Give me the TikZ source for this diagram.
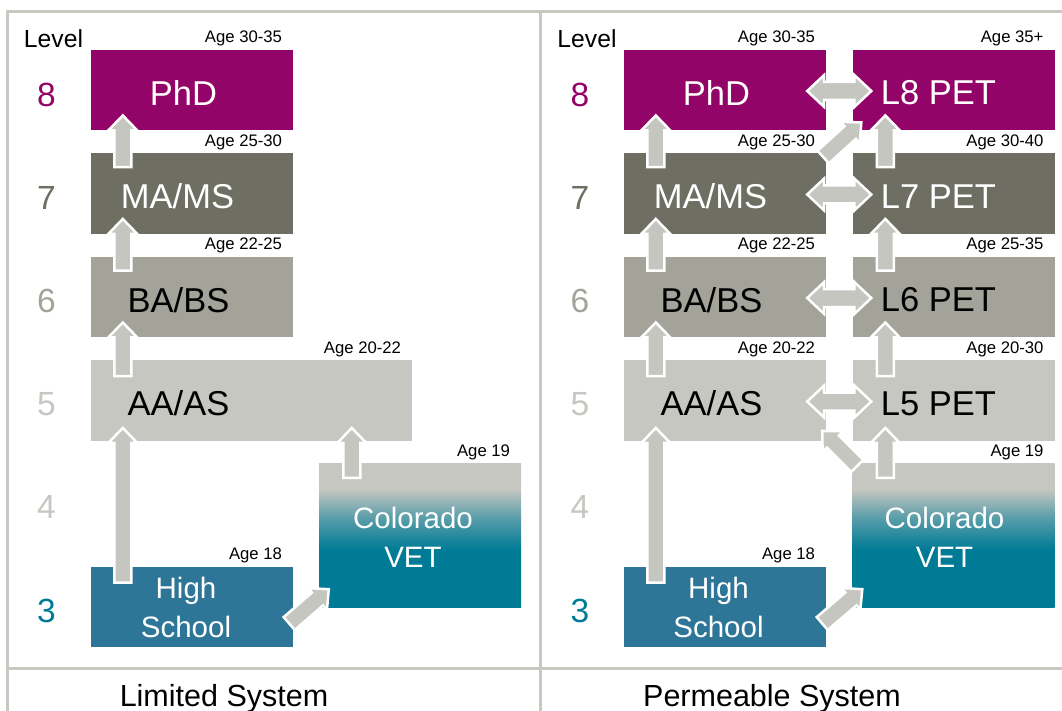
\documentclass[tikz,border=0pt]{standalone}
\usepackage{fontspec}
\setmainfont{Liberation Sans}
\usetikzlibrary{positioning,calc}

\definecolor{phdcol}{RGB}{147,4,104}
\definecolor{macol}{RGB}{110,110,98}
\definecolor{bacol}{RGB}{163,163,154}
\definecolor{aacol}{RGB}{199,199,193}
\definecolor{hscol}{RGB}{46,118,151}
\definecolor{vetcol}{RGB}{0,123,150}
\definecolor{rimcol}{RGB}{200,200,194}
\definecolor{arrcol}{RGB}{198,198,192}

\pgfdeclareverticalshading{vetshade}{100bp}{color(0bp)=(vetcol); color(45bp)=(vetcol); color(56bp)=(vetcol!55!aacol); color(66bp)=(aacol); color(100bp)=(aacol)}

\tikzset{
  rim/.style={draw=rimcol, line width=3pt},
  box/.style={rectangle, inner sep=0pt, minimum width=202pt, minimum height=80.5pt, fill=#1},
  vet/.style={rectangle, inner sep=0pt, minimum width=202pt, minimum height=144pt, shading=vetshade},
  txt/.style={font=\fontsize{34.5}{40}\selectfont, text=#1, yshift=-3pt},
  txttwo/.style={font=\fontsize{29.5}{39}\selectfont, text=white, align=center},
  age/.style={font=\fontsize{16.7}{20}\selectfont, anchor=south east, inner sep=0pt, xshift=-11pt, yshift=3pt},
  num/.style={font=\fontsize{33.5}{40}\selectfont, text=#1},
  lev/.style={font=\fontsize{24.7}{30}\selectfont},
  sys/.style={font=\fontsize{30.5}{36}\selectfont, anchor=base},
  blk/.style={draw=white, line width=2.5pt, fill=arrcol, line join=miter},
  uparrow/.style={to path={let \p1=(\tikztostart), \p2=(\tikztotarget),
      \n1={atan2(\y2-\y1,\x2-\x1)}, \n2={veclen(\x2-\x1,\y2-\y1)} in
      -- ++(\n1-90:8.5pt) -- ++(\n1:\n2-15pt) -- ++(\n1-90:6pt) -- (\p2)
      -- ++($(\n1+180:15pt)+(\n1+90:14.5pt)$) -- ++(\n1-90:6pt) -- ++(\n1+180:\n2-15pt) -- cycle}},
  twoway/.style={to path={let \p1=(\tikztostart), \p2=(\tikztotarget),
      \n1={atan2(\y2-\y1,\x2-\x1)}, \n2={veclen(\x2-\x1,\y2-\y1)} in
      -- ++($(\n1:17pt)+(\n1+90:16pt)$) -- ++(\n1-90:7pt) -- ++(\n1:\n2-34pt) -- ++(\n1+90:7pt) -- (\p2)
      -- ++($(\n1+180:17pt)+(\n1-90:16pt)$) -- ++(\n1+90:7pt) -- ++(\n1+180:\n2-34pt) -- ++(\n1-90:7pt) -- cycle}}
}

\begin{document}
\begin{tikzpicture}[x=1pt,y=-1pt,node distance=103.5pt,on grid]
\useasboundingbox (0,0) rectangle (1062,711);

% frame
\draw[rim] (7,711) |- (1062,12);
\draw[rim] (540,12) -- (540,711);
\draw[rim] (7,668) -- (1062,668);

% levels
\node[lev] (lev_L) at (53.5,39) {Level};
\node[lev] (lev_R) at (587,39) {Level};
\foreach \lv/\col [count=\i from 0] in {8/phdcol,7/macol,6/bacol,5/aacol,4/aacol,3/vetcol}{
  \node[num=\col] (lv\lv_L) at (46.5,{95+103.1*\i}) {\lv};
  \node[num=\col] (lv\lv_R) at (580,{95+103.1*\i}) {\lv};
}

% limited system
\node[box=phdcol, label={[txt=white,xshift=-8.5pt]center:PhD}, label={[age]north east:Age 30-35}] (phd_L) at (192,90) {};
\node[box=macol, label={[txt=white,xshift=-14.5pt]center:MA/MS}, label={[age]north east:Age 25-30}] (ma_L) [below=of phd_L] {};
\node[box=bacol, label={[txt=black,xshift=-13.5pt]center:BA/BS}, label={[age]north east:Age 22-25}] (ba_L) [below=of ma_L] {};
\node[box=aacol, minimum width=321pt, label={[txt=black,xshift=-73pt]center:AA/AS}, label={[age]north east:Age 20-22}] (aa_L) at (251.5,400.5) {};
\node[box=hscol, label={[txttwo,xshift=-6pt]center:High\\School}, label={[age]north east:Age 18}] (hs_L) at (192,607) {};
\node[vet, label={[txttwo,xshift=-7pt,yshift=-2pt]center:Colorado\\VET}, label={[age]north east:Age 19}] (vet_L) at (420,535) {};

\path[blk]
  ($(ma_L.north west)+(32,14)$) to[uparrow] ($(phd_L.south west)+(32,-15)$)
  ($(ba_L.north west)+(32,14)$) to[uparrow] ($(ma_L.south west)+(32,-15)$)
  ($(aa_L.north west)+(32,16)$) to[uparrow] ($(ba_L.south west)+(32,-15)$)
  ($(hs_L.north west)+(32,16)$) to[uparrow] ($(aa_L.south west)+(32,-13)$)
  ($(vet_L.north west)+(33,15)$) to[uparrow] ($(aa_L.south west)+(261,-13)$)
  ($(hs_L.north east)+(-4,57)$) to[uparrow] ($(vet_L.south west)+(10,-18)$);

% permeable system
\node[box=phdcol, label={[txt=white,xshift=-8.5pt]center:PhD}, label={[age]north east:Age 30-35}] (phd_R) at (725,90) {};
\node[box=macol, label={[txt=white,xshift=-14.5pt]center:MA/MS}, label={[age]north east:Age 25-30}] (ma_R) [below=of phd_R] {};
\node[box=bacol, label={[txt=black,xshift=-13.5pt]center:BA/BS}, label={[age]north east:Age 22-25}] (ba_R) [below=of ma_R] {};
\node[box=aacol, label={[txt=black,xshift=-13.5pt]center:AA/AS}, label={[age]north east:Age 20-22}] (aa_R) [below=of ba_R] {};
\node[box=hscol, label={[txttwo,xshift=-6.5pt]center:High\\School}, label={[age]north east:Age 18}] (hs_R) at (725,607) {};

\node[box=phdcol, label={[txt=white,xshift=-15pt]center:L8 PET}, label={[age]north east:Age 35+}] (l8) at (953.5,90) {};
\node[box=macol, label={[txt=white,xshift=-15pt]center:L7 PET}, label={[age]north east:Age 30-40}] (l7) [below=of l8] {};
\node[box=bacol, label={[txt=black,xshift=-15pt]center:L6 PET}, label={[age]north east:Age 25-35}] (l6) [below=of l7] {};
\node[box=aacol, label={[txt=black,xshift=-15pt]center:L5 PET}, label={[age]north east:Age 20-30}] (l5) [below=of l6] {};
\node[vet, label={[txttwo,xshift=-9pt,yshift=-2pt]center:Colorado\\VET}, label={[age]north east:Age 19}] (vet_R) at (953.5,535) {};

\path[blk]
  ($(ma_R.north west)+(32,14)$) to[uparrow] ($(phd_R.south west)+(32,-15)$)
  ($(ba_R.north west)+(32,14)$) to[uparrow] ($(ma_R.south west)+(32,-15)$)
  ($(aa_R.north west)+(32,16)$) to[uparrow] ($(ba_R.south west)+(32,-15)$)
  ($(hs_R.north west)+(32,16)$) to[uparrow] ($(aa_R.south west)+(32,-13)$)
  ($(l7.north west)+(33,14)$) to[uparrow] ($(l8.south west)+(33,-15)$)
  ($(l6.north west)+(33,14)$) to[uparrow] ($(l7.south west)+(33,-15)$)
  ($(l5.north west)+(33,16)$) to[uparrow] ($(l6.south west)+(33,-15)$)
  ($(vet_R.north west)+(33,15)$) to[uparrow] ($(l5.south west)+(33,-13)$)
  ($(ma_R.north east)+(-3,4)$) to[uparrow] ($(l8.south west)+(9,-8)$)
  ($(vet_R.north west)+(5,3)$) to[uparrow] ($(aa_R.south east)+(-4,-10)$)
  ($(hs_R.north east)+(-4,57)$) to[uparrow] ($(vet_R.south west)+(10,-18)$);
\path[blk]
  ($(phd_R.east)+(-19,1)$) to[twoway] ($(l8.west)+(19,1)$)
  ($(ma_R.east)+(-19,1)$) to[twoway] ($(l7.west)+(19,1)$)
  ($(ba_R.east)+(-19,1)$) to[twoway] ($(l6.west)+(19,1)$)
  ($(aa_R.east)+(-19,1)$) to[twoway] ($(l5.west)+(19,1)$);

% captions
\node[sys] (cap_L) at (224,706) {Limited System};
\node[sys] (cap_R) at (772,706) {Permeable System};
\end{tikzpicture}
\end{document}
